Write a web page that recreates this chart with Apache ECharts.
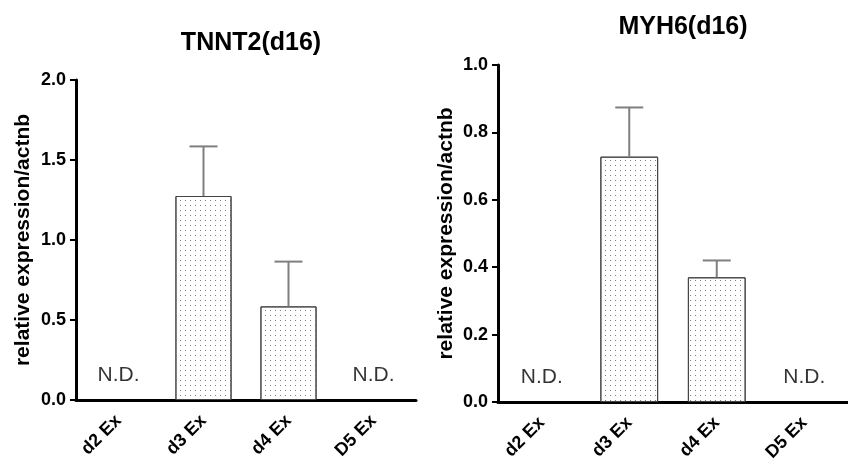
<!DOCTYPE html>
<html>
<head>
<meta charset="utf-8">
<script src="https://cdn.jsdelivr.net/npm/echarts@6/dist/echarts.min.js"></script>
<style>
  html, body { margin: 0; padding: 0; background: #fff; }
  #chart { width: 848px; height: 466px; }
</style>
</head>
<body>
<div id="chart"></div>
<script>
// Differentiation time points (x categories), shared by both panels
const categories = ['d2 Ex', 'd3 Ex', 'd4 Ex', 'D5 Ex'];

// TNNT2 at day 16: mean and SEM (null = not detected)
const tnnt2Mean = [null, 1.275, 0.585, null];
const tnnt2Err  = [null, 0.31, 0.28, null];

// MYH6 at day 16: mean and SEM (null = not detected)
const myh6Mean = [null, 0.728, 0.370, null];
const myh6Err  = [null, 0.146, 0.050, null];

// Titles, y-axis text and the "not detected" marker
const panelTitles = ['TNNT2(d16)', 'MYH6(d16)'];
const yAxisTitle = 'relative expression/actnb';
const ndText = 'N.D.';

const FONT = '"Liberation Sans", Arial, sans-serif';

// stippled fill used for every bar
const dotDecal = {
  symbol: 'rect',
  symbolSize: 1,
  color: '#7a7a7a',
  dashArrayX: [1, 3.5],
  dashArrayY: [1, 4],
  rotation: 0
};

function barSeries(values, gridIdx) {
  return {
    type: 'bar',
    xAxisIndex: gridIdx,
    yAxisIndex: gridIdx,
    data: values,
    barWidth: '66%',
    itemStyle: {
      color: '#ffffff',
      borderColor: '#444444',
      borderWidth: 1,
      decal: dotDecal
    },
    emphasis: { disabled: true },
    silent: true,
    z: 2
  };
}

function errorSeries(values, errs, gridIdx) {
  const data = [];
  values.forEach((v, i) => {
    if (v != null && errs[i] != null) data.push([i, v, v + errs[i]]);
  });
  return {
    type: 'custom',
    xAxisIndex: gridIdx,
    yAxisIndex: gridIdx,
    data: data,
    silent: true,
    z: 3,
    renderItem: function (params, api) {
      const base = api.coord([api.value(0), api.value(1)]);
      const top = api.coord([api.value(0), api.value(2)]);
      const half = 14;
      const style = { stroke: '#7f7f7f', lineWidth: 2, fill: null };
      return {
        type: 'group',
        children: [
          { type: 'line', shape: { x1: base[0], y1: base[1], x2: top[0], y2: top[1] }, style: style },
          { type: 'line', shape: { x1: top[0] - half, y1: top[1], x2: top[0] + half, y2: top[1] }, style: style }
        ]
      };
    }
  };
}

function ndSeries(values, gridIdx) {
  const data = [];
  values.forEach((v, i) => { if (v == null) data.push([i, 0]); });
  return {
    type: 'scatter',
    xAxisIndex: gridIdx,
    yAxisIndex: gridIdx,
    data: data,
    symbolSize: 1,
    itemStyle: { color: 'rgba(0,0,0,0)' },
    silent: true,
    label: {
      show: true,
      position: 'top',
      distance: 14,
      formatter: ndText,
      fontFamily: FONT,
      fontSize: 21,
      color: '#000000'
    }
  };
}

function xAxis(gridIdx) {
  return {
    type: 'category',
    gridIndex: gridIdx,
    data: categories,
    boundaryGap: true,
    axisLine: { lineStyle: { color: '#000', width: 3 } },
    axisTick: { alignWithLabel: true, length: 9, lineStyle: { color: '#000', width: 3 } },
    axisLabel: {
      rotate: 45,
      margin: 18,
      fontFamily: FONT,
      fontSize: 18,
      fontWeight: 'bold',
      color: '#000'
    },
    splitLine: { show: false }
  };
}

function yAxis(gridIdx, max, interval, nameGap) {
  return {
    type: 'value',
    gridIndex: gridIdx,
    min: 0,
    max: max,
    interval: interval,
    name: yAxisTitle,
    nameLocation: 'middle',
    nameGap: nameGap,
    nameRotate: 90,
    nameTextStyle: { fontFamily: FONT, fontSize: 21, fontWeight: 'bold', color: '#000' },
    axisLine: { show: true, lineStyle: { color: '#000', width: 3 } },
    axisTick: { show: true, length: 6, lineStyle: { color: '#000', width: 2 } },
    axisLabel: {
      margin: 10,
      fontFamily: FONT,
      fontSize: 18,
      fontWeight: 'bold',
      color: '#000',
      formatter: v => v.toFixed(1)
    },
    splitLine: { show: false }
  };
}

const chart = echarts.init(document.getElementById('chart'), null, { renderer: 'canvas' });

chart.setOption({
  backgroundColor: '#ffffff',
  animation: false,
  title: [
    { text: panelTitles[0], left: 246, top: 26, textAlign: 'center',
      textStyle: { fontFamily: FONT, fontSize: 25, fontWeight: 'bold', color: '#000' } },
    { text: panelTitles[1], left: 678, top: 10, textAlign: 'center',
      textStyle: { fontFamily: FONT, fontSize: 25, fontWeight: 'bold', color: '#000' } }
  ],
  grid: [
    { left: 76, right: 432, top: 80, bottom: 66, containLabel: false },
    { left: 498, right: -8, top: 65, bottom: 64, containLabel: false }
  ],
  xAxis: [xAxis(0), xAxis(1)],
  yAxis: [yAxis(0, 2.0, 0.5, 42), yAxis(1, 1.0, 0.2, 41)],
  series: [
    barSeries(tnnt2Mean, 0),
    errorSeries(tnnt2Mean, tnnt2Err, 0),
    ndSeries(tnnt2Mean, 0),
    barSeries(myh6Mean, 1),
    errorSeries(myh6Mean, myh6Err, 1),
    ndSeries(myh6Mean, 1)
  ]
});
</script>
</body>
</html>
